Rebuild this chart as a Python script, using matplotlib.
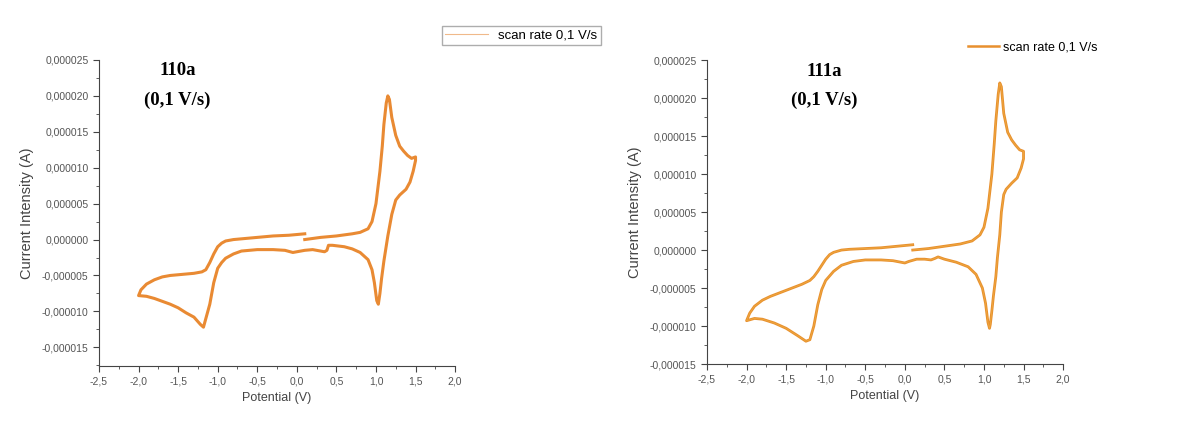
import numpy as np
import matplotlib.pyplot as plt
from matplotlib.ticker import FuncFormatter, MultipleLocator

plt.rcParams['font.family'] = ['Liberation Sans', 'DejaVu Sans']

# 110a cyclic voltammogram (V, A)
pot_110 = [0.1, 0.3, 0.5, 0.7, 0.8, 0.9, 0.95, 1.0, 1.05, 1.08, 1.1, 1.13, 1.15, 1.17, 1.2, 1.25, 1.3, 1.35, 1.4, 1.45, 1.5,
           1.5, 1.47, 1.43, 1.38, 1.3, 1.25, 1.2, 1.15, 1.1, 1.07, 1.05, 1.03, 1.01, 0.98, 0.95, 0.9, 0.8, 0.7, 0.6, 0.45, 0.4,
           0.38, 0.35, 0.3, 0.2, 0.1, 0.0, -0.05, -0.15, -0.3, -0.5, -0.7, -0.8, -0.9, -0.95, -1.0, -1.05, -1.1, -1.15, -1.18,
           -1.22, -1.3, -1.4, -1.5, -1.6, -1.7, -1.8, -1.9, -2.0,
           -2.0, -1.97, -1.9, -1.8, -1.7, -1.6, -1.5, -1.4, -1.3, -1.2, -1.15, -1.1, -1.05, -1.0, -0.95, -0.9, -0.8, -0.7,
           -0.5, -0.3, -0.1, 0.1]
cur_110 = [0.0, 0.3, 0.5, 0.8, 1.0, 1.5, 2.5, 5.0, 9.5, 13.0, 16.0, 19.0, 20.0, 19.5, 17.0, 14.5, 13.0, 12.3, 11.7, 11.3, 11.5,
           11.0, 9.5, 8.0, 7.0, 6.2, 5.5, 3.5, 0.5, -3.0, -5.5, -7.5, -9.0, -8.5, -6.0, -4.2, -2.8, -1.8, -1.3, -1.0, -0.8, -0.8,
           -1.5, -1.7, -1.6, -1.4, -1.5, -1.7, -1.8, -1.5, -1.4, -1.4, -1.6, -2.0, -2.6, -3.2, -4.0, -6.0, -9.0, -11.0, -12.2,
           -11.8, -10.8, -10.2, -9.5, -9.0, -8.6, -8.2, -7.9, -7.8,
           -7.8, -7.0, -6.2, -5.6, -5.2, -5.0, -4.9, -4.8, -4.7, -4.5, -4.2, -3.2, -2.0, -1.0, -0.5, -0.2, 0.0, 0.1,
           0.3, 0.5, 0.6, 0.8]

# 111a cyclic voltammogram (V, A)
pot_111 = [0.1, 0.3, 0.5, 0.7, 0.85, 0.95, 1.0, 1.05, 1.1, 1.13, 1.15, 1.18, 1.2, 1.22, 1.25, 1.3, 1.35, 1.4, 1.45, 1.5,
           1.5, 1.47, 1.42, 1.35, 1.28, 1.25, 1.22, 1.2, 1.17, 1.15, 1.12, 1.1, 1.08, 1.07, 1.05, 1.02, 0.98, 0.9, 0.8, 0.65,
           0.5, 0.42, 0.38, 0.33, 0.25, 0.15, 0.05, 0.0, -0.05, -0.15, -0.3, -0.5, -0.65, -0.8, -0.9, -1.0, -1.05, -1.1,
           -1.15, -1.2, -1.25, -1.35, -1.5, -1.65, -1.8, -1.9, -2.0,
           -2.0, -1.96, -1.9, -1.8, -1.7, -1.5, -1.3, -1.2, -1.15, -1.1, -1.05, -1.0, -0.95, -0.9, -0.8, -0.7, -0.5, -0.3,
           -0.1, 0.1]
cur_111 = [0.0, 0.2, 0.5, 0.8, 1.2, 2.0, 3.0, 5.5, 10.0, 14.0, 17.0, 20.5, 22.0, 21.5, 18.0, 15.5, 14.5, 13.8, 13.2, 13.0,
           12.0, 10.8, 9.5, 8.8, 8.0, 7.3, 5.0, 2.0, -1.0, -3.5, -6.0, -8.0, -9.8, -10.3, -9.5, -7.0, -5.0, -3.2, -2.2, -1.6,
           -1.2, -0.9, -1.1, -1.3, -1.2, -1.2, -1.5, -1.7, -1.6, -1.4, -1.3, -1.3, -1.5, -2.0, -2.8, -4.0, -5.2, -7.2,
           -10.0, -11.8, -12.0, -11.3, -10.3, -9.6, -9.1, -9.0, -9.3,
           -9.3, -8.3, -7.4, -6.6, -6.1, -5.3, -4.5, -4.0, -3.5, -2.8, -2.0, -1.2, -0.6, -0.3, 0.0, 0.1, 0.2, 0.3,
           0.5, 0.7]

def fmt_y(v, pos):
    s = '%.6f' % v
    if s.startswith('-') and float(s) == 0:
        s = s[1:]
    return s.replace('.', ',')

def fmt_x(v, pos):
    return ('%.1f' % v).replace('.', ',')

def style_axes(ax, ybot):
    ax.set_xlim(-2.5, 2.0)
    ax.set_ylim(ybot, 25e-6)
    ax.spines['top'].set_visible(False)
    ax.spines['right'].set_visible(False)
    ax.spines['left'].set_color('#444444')
    ax.spines['bottom'].set_color('#444444')
    ax.xaxis.set_major_locator(MultipleLocator(0.5))
    ax.xaxis.set_minor_locator(MultipleLocator(0.25))
    ax.yaxis.set_major_locator(MultipleLocator(5e-6))
    ax.yaxis.set_minor_locator(MultipleLocator(2.5e-6))
    ax.yaxis.set_major_formatter(FuncFormatter(fmt_y))
    ax.xaxis.set_major_formatter(FuncFormatter(fmt_x))
    ax.tick_params(which='both', direction='out', colors='#444444', labelsize=7.5, labelcolor='#555555')
    ax.tick_params(which='major', length=4)
    ax.tick_params(which='minor', length=2)
    ax.set_xlabel('Potential (V)', fontsize=9, color='#444444')
    ax.set_ylabel('Current Intensity (A)', fontsize=10.5, color='#444444', labelpad=6)

fig = plt.figure(figsize=(12.03, 4.28), dpi=100)

ax1 = fig.add_axes([0.0823, 0.1449, 0.296, 0.715])
ax1.plot(pot_110, np.array(cur_110) * 1e-6, color='#E98A33', lw=2.2, label='scan rate 0,1 V/s')
style_axes(ax1, -17.6e-6)
ax1.text(0.22, 0.964, '110a', transform=ax1.transAxes, ha='center', va='center',
         fontsize=13.5, fontweight='bold', family='Liberation Serif')
ax1.text(0.22, 0.869, '(0,1 V/s)', transform=ax1.transAxes, ha='center', va='center',
         fontsize=13.5, fontweight='bold', family='Liberation Serif')
fig.legend(handles=[plt.Line2D([], [], color='#F0B98A', lw=0.8)], labels=['scan rate 0,1 V/s'],
           loc='center left', bbox_to_anchor=(0.362, 0.917), fontsize=9.5, frameon=True,
           fancybox=False, edgecolor='#999999', handlelength=3.2, borderpad=0.25)

ax2 = fig.add_axes([0.5877, 0.1495, 0.296, 0.710])
ax2.plot(pot_111, np.array(cur_111) * 1e-6, color='#E8902E', lw=2.0)
ax2.plot(pot_111, np.array(cur_111) * 1e-6, color='#F2B84A', lw=0.6, alpha=0.6)
style_axes(ax2, -15e-6)
ax2.text(0.33, 0.964, '111a', transform=ax2.transAxes, ha='center', va='center',
         fontsize=13.5, fontweight='bold', family='Liberation Serif')
ax2.text(0.33, 0.868, '(0,1 V/s)', transform=ax2.transAxes, ha='center', va='center',
         fontsize=13.5, fontweight='bold', family='Liberation Serif')
fig.legend(handles=[plt.Line2D([], [], color='#E8902E', lw=1.8)], labels=['scan rate 0,1 V/s'],
           loc='center left', bbox_to_anchor=(0.795, 0.89), fontsize=9, frameon=False,
           handlelength=2.5, handletextpad=0.3)

fig.savefig('out.png', dpi=100)
